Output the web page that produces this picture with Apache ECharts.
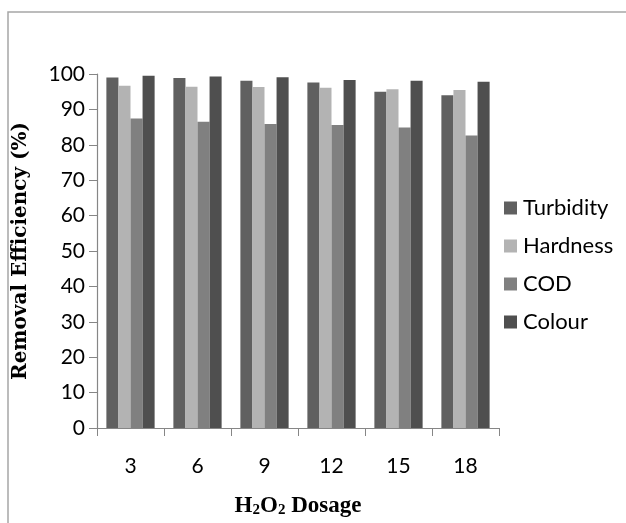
<!DOCTYPE html>
<html>
<head>
<meta charset="utf-8">
<script src="https://cdn.jsdelivr.net/npm/echarts@6/dist/echarts.min.js"></script>
<style>
  html, body { margin: 0; padding: 0; background: #fff; }
  #main { width: 626px; height: 523px; }
</style>
</head>
<body>
<div id="main"></div>
<script>
// H2O2 dosage categories and removal efficiency (%) per parameter
const dosages = ['3', '6', '9', '12', '15', '18']
const turbidity = [99.0, 98.9, 98.1, 97.6, 95.0, 94.0]
const hardness = [96.7, 96.4, 96.3, 96.1, 95.7, 95.5]
const cod = [87.4, 86.5, 85.9, 85.6, 84.9, 82.6]
const colour = [99.5, 99.3, 99.1, 98.3, 98.1, 97.8]
const seriesNames = ['Turbidity', 'Hardness', 'COD', 'Colour']
const seriesColors = ['#606060', '#b3b3b3', '#808080', '#4f4f4f']
const seriesData = [turbidity, hardness, cod, colour]

const chart = echarts.init(document.getElementById('main'))

chart.setOption({
  animation: false,
  backgroundColor: '#fff',
  color: seriesColors,
  graphic: [
    {
      type: 'rect',
      shape: { x: 8, y: 12, width: 640, height: 530 },
      style: { fill: 'none', stroke: '#a6a6a6', lineWidth: 1.5 },
      silent: true
    }
  ],
  grid: {
    left: 97,
    right: 127,
    top: 74,
    bottom: 95,
    outerBoundsMode: 'none',
    containLabel: false
  },
  legend: {
    orient: 'vertical',
    left: 499,
    top: 192,
    itemWidth: 13,
    itemHeight: 13,
    itemGap: 16,
    icon: 'rect',
    textStyle: { fontFamily: 'Lato', fontSize: 22, lineHeight: 22, color: '#000', padding: [0, 0, 0, 1] },
    data: seriesNames
  },
  xAxis: {
    type: 'category',
    data: dosages,
    name: '{a|H}{s|2}{a|O}{s|2}{a| Dosage}',
    nameLocation: 'middle',
    nameGap: 66,
    nameTextStyle: {
      rich: {
        a: { fontFamily: 'Liberation Serif', fontWeight: 'bold', fontSize: 23, color: '#000' },
        s: { fontFamily: 'Liberation Serif', fontWeight: 'bold', fontSize: 15, color: '#000', verticalAlign: 'bottom', padding: [9, 0, 0, 0] }
      }
    },
    axisLine: { lineStyle: { color: '#868686', width: 1.2 } },
    axisTick: { show: true, length: 8, lineStyle: { color: '#868686' } },
    axisLabel: { fontFamily: 'Lato', fontSize: 21, color: '#000', margin: 28 },
    splitLine: { show: false }
  },
  yAxis: {
    type: 'value',
    min: 0,
    max: 100,
    interval: 10,
    name: 'Removal Efficiency (%)',
    nameLocation: 'middle',
    nameGap: 66,
    nameTextStyle: { fontFamily: 'DejaVu Serif', fontWeight: 'bold', fontSize: 20, color: '#000' },
    axisLine: { show: true, lineStyle: { color: '#868686', width: 1.2 } },
    axisTick: { show: true, length: 8, lineStyle: { color: '#868686' } },
    axisLabel: { fontFamily: 'Lato', fontSize: 21, color: '#000', margin: 12 },
    splitLine: { show: false }
  },
  series: seriesNames.map((name, i) => ({
    name: name,
    type: 'bar',
    data: seriesData[i],
    barGap: '0%',
    barCategoryGap: '28%',
    itemStyle: { color: seriesColors[i] }
  }))
})
</script>
</body>
</html>
